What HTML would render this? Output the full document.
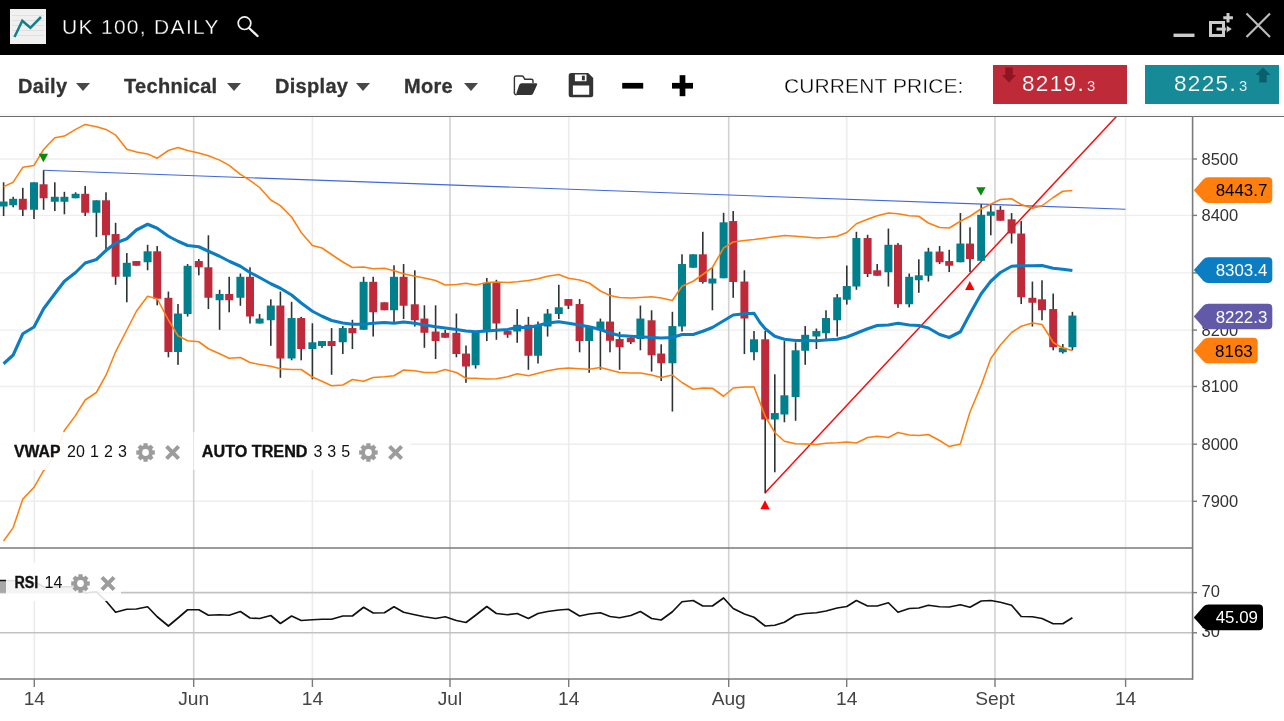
<!DOCTYPE html>
<html><head><meta charset="utf-8"><title>UK 100, DAILY</title>
<style>
html,body{margin:0;padding:0;background:#fff;}
body{width:1284px;height:721px;overflow:hidden;position:relative;font-family:"Liberation Sans",sans-serif;}
#hdr{position:absolute;left:0;top:0;width:1284px;height:55px;background:#000;}
#ttl{position:absolute;left:62px;top:15px;font-size:21px;line-height:24px;color:#fff;letter-spacing:1.3px;white-space:nowrap;-webkit-text-stroke:0.3px #000;}
.tb{position:absolute;top:74px;letter-spacing:0.3px;-webkit-text-stroke:0.3px #333;font-size:20px;line-height:24px;font-weight:bold;color:#333;white-space:nowrap;}
.ar{position:absolute;top:82.9px;width:0;height:0;margin-left:-0.6px;border-left:7.9px solid transparent;border-right:7.9px solid transparent;border-top:8.1px solid #484848;}
#cp{position:absolute;left:784px;top:74px;font-size:21px;line-height:24px;color:#000;white-space:nowrap;letter-spacing:0.1px;-webkit-text-stroke:0.35px #fff;}
.pb{position:absolute;top:65px;width:134px;height:39px;color:#fff;font-size:22.5px;line-height:38px;white-space:nowrap;letter-spacing:1.35px;}
.pb small{font-size:14.8px;margin-left:2px;}
svg{position:absolute;left:0;top:0;will-change:transform;}
div{will-change:transform;}
.lb{font-size:16.9px;fill:#000;}
.lbw{font-size:16.9px;fill:#fff;}
.ax{font-size:16.5px;fill:#333;}
.xl{font-size:19.2px;fill:#444;text-anchor:middle;}
.il{font-size:16px;fill:#111;}
</style></head><body>
<div id="hdr"></div>
<div id="ttl">UK 100, DAILY</div>
<div class="tb" style="left:18px">Daily</div><div class="ar" style="left:77px"></div>
<div class="tb" style="left:124px">Technical</div><div class="ar" style="left:228px"></div>
<div class="tb" style="left:275px">Display</div><div class="ar" style="left:357px"></div>
<div class="tb" style="left:404px">More</div><div class="ar" style="left:465px"></div>
<div id="cp">CURRENT PRICE:</div>
<div class="pb" style="left:993px;background:#be2a37;-webkit-text-stroke:0.15px #be2a37"><span style="position:absolute;left:29px">8219.<small>3</small></span></div>
<div class="pb" style="left:1145px;background:#178a98;-webkit-text-stroke:0.15px #178a98"><span style="position:absolute;left:29px">8225.<small>3</small></span></div>

<svg width="1284" height="721" viewBox="0 0 1284 721" font-family="Liberation Sans, sans-serif">
<g>
<rect x="10" y="9" width="36" height="35" fill="#f0f0f0"/>
<path d="M12 15.5H44M12 20.5H44M12 25.5H44M12 30.5H44M12 35.5H44" stroke="#dcdcdc" stroke-width="0.8"/>
<path d="M14.5 37 L22.3 20.8 L30.4 27.8 L41 17" fill="none" stroke="#12808c" stroke-width="2.5"/>
<circle cx="244.5" cy="23.2" r="6.3" fill="none" stroke="#f2f2f2" stroke-width="1.7"/>
<path d="M249 28 L257.5 36" stroke="#f2f2f2" stroke-width="2.4" stroke-linecap="round"/>
<rect x="1173.5" y="33.6" width="21" height="3.4" fill="#ccc"/>
<rect x="1210.5" y="22.5" width="13" height="13" fill="none" stroke="#ccc" stroke-width="3"/>
<path d="M1228 13v9.4M1223.3 17.7h9.6" stroke="#ccc" stroke-width="3"/>
<rect x="1216.5" y="27.6" width="10" height="3" fill="#ccc"/>
<path d="M1226.3 25 L1232.5 29 L1226.3 33Z" fill="#ccc" stroke="#000" stroke-width="0.8"/>
<path d="M1246.5 13.5 L1270 37 M1270 13.5 L1246.5 37" stroke="#bbb" stroke-width="2.2"/>
</g>
<g fill="#333">
<path d="M514.4 92.6 V77.6 q0 -1.6 1.6 -1.6 h6 q0.9 0 1.4 0.8 l1.4 2.4 h6.6 q1.6 0 1.6 1.6 v2.2" fill="none" stroke="#333" stroke-width="1.4"/>
<path d="M514.4 92 q-0.3 2.8 2.2 2.8" fill="none" stroke="#333" stroke-width="1.4"/>
<path d="M521.6 83.3 h14.6 q1.6 0 0.9 1.5 l-4 8.6 q-0.7 1.5 -2.3 1.5 h-13.6 q-1.6 0 -0.9 -1.5 l3 -8.6 q0.7 -1.5 2.3 -1.5z"/>
<path fill-rule="evenodd" d="M568.7 75.5 q0 -2.5 2.5 -2.5 h17 l5 5 v16.8 q0 2.5 -2.5 2.5 h-19.5 q-2.5 0 -2.5 -2.5z M574.9 74.6 h11.6 v6.6 h-11.6z M572.9 85.4 h16.3 v9.4 h-16.3z"/>
<rect x="581.9" y="75.7" width="2.9" height="4.6"/>
</g>
<rect x="622.2" y="82.9" width="21" height="5.7" fill="#000"/>
<rect x="672" y="82.9" width="21" height="5.7" fill="#000"/>
<rect x="679.65" y="75.2" width="5.7" height="21" fill="#000"/>
<path d="M1005.3 67.5 h7.4 v7.4 h3.4 l-7.1 7.6 l-7.1 -7.6 h3.4z" fill="#8e1521"/>
<path d="M1259.3 82.5 h7.4 v-7.4 h3.9 l-7.6 -7.6 l-7.6 7.6 h3.9z" fill="#0b5f6a"/>

<rect x="0" y="113.5" width="1284" height="2.5" fill="#f8f8f8"/>
<line x1="0" x2="1193" y1="159.0" y2="159.0" stroke="#eeeeee" stroke-width="1.4"/>
<line x1="0" x2="1193" y1="215.4" y2="215.4" stroke="#eeeeee" stroke-width="1.4"/>
<line x1="0" x2="1193" y1="272.9" y2="272.9" stroke="#eeeeee" stroke-width="1.4"/>
<line x1="0" x2="1193" y1="330.1" y2="330.1" stroke="#eeeeee" stroke-width="1.4"/>
<line x1="0" x2="1193" y1="386.5" y2="386.5" stroke="#eeeeee" stroke-width="1.4"/>
<line x1="0" x2="1193" y1="444.2" y2="444.2" stroke="#eeeeee" stroke-width="1.4"/>
<line x1="0" x2="1193" y1="501.3" y2="501.3" stroke="#eeeeee" stroke-width="1.4"/>
<line x1="34.3" x2="34.3" y1="116" y2="679" stroke="#ececec" stroke-width="1.6"/>
<line x1="193.7" x2="193.7" y1="116" y2="679" stroke="#d2d2d2" stroke-width="1.6"/>
<line x1="312.4" x2="312.4" y1="116" y2="679" stroke="#ececec" stroke-width="1.6"/>
<line x1="450" x2="450" y1="116" y2="679" stroke="#d2d2d2" stroke-width="1.6"/>
<line x1="568.7" x2="568.7" y1="116" y2="679" stroke="#ececec" stroke-width="1.6"/>
<line x1="728.7" x2="728.7" y1="116" y2="679" stroke="#d2d2d2" stroke-width="1.6"/>
<line x1="846.7" x2="846.7" y1="116" y2="679" stroke="#ececec" stroke-width="1.6"/>
<line x1="995" x2="995" y1="116" y2="679" stroke="#d2d2d2" stroke-width="1.6"/>
<line x1="1125.6" x2="1125.6" y1="116" y2="679" stroke="#ececec" stroke-width="1.6"/>
<line x1="0" x2="1193" y1="592.6" y2="592.6" stroke="#c2c2c2" stroke-width="1.6"/>
<line x1="0" x2="1193" y1="632.8" y2="632.8" stroke="#c2c2c2" stroke-width="1.6"/>
<line x1="43.5" y1="170.3" x2="1125.5" y2="209.3" stroke="#4066e0" stroke-width="1.1"/>
<line x1="765" y1="493" x2="1116.4" y2="116.5" stroke="#ff0a0a" stroke-width="1.5"/>
<rect x="2.80" y="182.3" width="1.6" height="33.75" fill="#2e3336"/>
<rect x="-0.40" y="201.55" width="8" height="4.95" fill="#00808c"/>
<rect x="12.40" y="196.8" width="1.6" height="10.50" fill="#2e3336"/>
<rect x="9.20" y="198.8" width="8" height="6.45" fill="#00808c"/>
<rect x="22.00" y="187.8" width="1.6" height="28.25" fill="#2e3336"/>
<rect x="18.80" y="198.8" width="8" height="10.95" fill="#be2a3a"/>
<rect x="33.20" y="182.3" width="1.6" height="36.75" fill="#2e3336"/>
<rect x="30.00" y="182.3" width="8" height="27.45" fill="#00808c"/>
<rect x="42.80" y="170.3" width="1.6" height="39.50" fill="#2e3336"/>
<rect x="39.60" y="184.3" width="8" height="13.95" fill="#be2a3a"/>
<rect x="54.00" y="182.3" width="1.6" height="28.75" fill="#2e3336"/>
<rect x="50.80" y="196.8" width="8" height="4.95" fill="#00808c"/>
<rect x="63.60" y="191.8" width="1.6" height="22.50" fill="#2e3336"/>
<rect x="60.40" y="196.8" width="8" height="4.95" fill="#00808c"/>
<rect x="74.80" y="192.3" width="1.6" height="6.00" fill="#2e3336"/>
<rect x="71.60" y="193.8" width="8" height="4.45" fill="#00808c"/>
<rect x="84.40" y="186.05" width="1.6" height="30.00" fill="#2e3336"/>
<rect x="81.20" y="193.8" width="8" height="18.95" fill="#be2a3a"/>
<rect x="95.60" y="200.3" width="1.6" height="36.75" fill="#2e3336"/>
<rect x="92.40" y="200.3" width="8" height="12.45" fill="#00808c"/>
<rect x="105.20" y="192.3" width="1.6" height="56.75" fill="#2e3336"/>
<rect x="102.00" y="200.3" width="8" height="34.95" fill="#be2a3a"/>
<rect x="114.80" y="222.8" width="1.6" height="62.00" fill="#2e3336"/>
<rect x="111.60" y="234.05" width="8" height="42.70" fill="#be2a3a"/>
<rect x="126.00" y="253.05" width="1.6" height="49.25" fill="#2e3336"/>
<rect x="122.80" y="262.8" width="8" height="13.95" fill="#00808c"/>
<rect x="135.60" y="261.05" width="1.6" height="4.75" fill="#2e3336"/>
<rect x="132.40" y="261.05" width="8" height="4.70" fill="#be2a3a"/>
<rect x="146.80" y="244.8" width="1.6" height="25.50" fill="#2e3336"/>
<rect x="143.60" y="251.3" width="8" height="10.95" fill="#00808c"/>
<rect x="156.40" y="246.05" width="1.6" height="59.25" fill="#2e3336"/>
<rect x="153.20" y="251.3" width="8" height="47.45" fill="#be2a3a"/>
<rect x="167.60" y="291.55" width="1.6" height="65.75" fill="#2e3336"/>
<rect x="164.40" y="297.8" width="8" height="54.20" fill="#be2a3a"/>
<rect x="177.20" y="304.05" width="1.6" height="60.75" fill="#2e3336"/>
<rect x="174.00" y="313.55" width="8" height="38.45" fill="#00808c"/>
<rect x="186.80" y="264.05" width="1.6" height="52.50" fill="#2e3336"/>
<rect x="183.60" y="265.8" width="8" height="48.20" fill="#00808c"/>
<rect x="198.00" y="259.05" width="1.6" height="16.25" fill="#2e3336"/>
<rect x="194.80" y="261.05" width="8" height="6.20" fill="#be2a3a"/>
<rect x="207.60" y="235.3" width="1.6" height="73.75" fill="#2e3336"/>
<rect x="204.40" y="267.3" width="8" height="30.45" fill="#be2a3a"/>
<rect x="218.80" y="289.8" width="1.6" height="40.00" fill="#2e3336"/>
<rect x="215.60" y="294.0" width="8" height="6.25" fill="#00808c"/>
<rect x="228.40" y="276.8" width="1.6" height="35.50" fill="#2e3336"/>
<rect x="225.20" y="294.0" width="8" height="6.25" fill="#be2a3a"/>
<rect x="239.60" y="273.55" width="1.6" height="32.25" fill="#2e3336"/>
<rect x="236.40" y="276.8" width="8" height="20.95" fill="#00808c"/>
<rect x="249.20" y="267.3" width="1.6" height="56.25" fill="#2e3336"/>
<rect x="246.00" y="276.8" width="8" height="39.70" fill="#be2a3a"/>
<rect x="258.80" y="314.05" width="1.6" height="9.50" fill="#2e3336"/>
<rect x="255.60" y="318.55" width="8" height="4.95" fill="#00808c"/>
<rect x="270.00" y="299.3" width="1.6" height="46.50" fill="#2e3336"/>
<rect x="266.80" y="305.55" width="8" height="14.70" fill="#00808c"/>
<rect x="279.60" y="291.55" width="1.6" height="86.25" fill="#2e3336"/>
<rect x="276.40" y="305.55" width="8" height="52.95" fill="#be2a3a"/>
<rect x="290.80" y="301.8" width="1.6" height="58.50" fill="#2e3336"/>
<rect x="287.60" y="318.05" width="8" height="40.45" fill="#00808c"/>
<rect x="300.40" y="316.8" width="1.6" height="43.50" fill="#2e3336"/>
<rect x="297.20" y="318.05" width="8" height="30.95" fill="#be2a3a"/>
<rect x="311.60" y="323.3" width="1.6" height="56.00" fill="#2e3336"/>
<rect x="308.40" y="342.3" width="8" height="6.70" fill="#00808c"/>
<rect x="321.20" y="341.05" width="1.6" height="6.75" fill="#2e3336"/>
<rect x="318.00" y="341.05" width="8" height="4.95" fill="#00808c"/>
<rect x="330.80" y="328.05" width="1.6" height="46.75" fill="#2e3336"/>
<rect x="327.60" y="341.05" width="8" height="4.95" fill="#be2a3a"/>
<rect x="342.00" y="326.05" width="1.6" height="28.00" fill="#2e3336"/>
<rect x="338.80" y="328.05" width="8" height="14.20" fill="#00808c"/>
<rect x="351.60" y="319.8" width="1.6" height="29.25" fill="#2e3336"/>
<rect x="348.40" y="328.05" width="8" height="5.20" fill="#be2a3a"/>
<rect x="362.80" y="276.8" width="1.6" height="53.00" fill="#2e3336"/>
<rect x="359.60" y="281.8" width="8" height="47.95" fill="#00808c"/>
<rect x="372.40" y="276.8" width="1.6" height="59.75" fill="#2e3336"/>
<rect x="369.20" y="281.8" width="8" height="30.45" fill="#be2a3a"/>
<rect x="383.60" y="302.3" width="1.6" height="8.00" fill="#2e3336"/>
<rect x="380.40" y="302.3" width="8" height="7.95" fill="#be2a3a"/>
<rect x="393.20" y="265.3" width="1.6" height="57.50" fill="#2e3336"/>
<rect x="390.00" y="276.8" width="8" height="33.45" fill="#00808c"/>
<rect x="402.80" y="264.05" width="1.6" height="55.00" fill="#2e3336"/>
<rect x="399.60" y="276.8" width="8" height="28.95" fill="#be2a3a"/>
<rect x="414.00" y="270.3" width="1.6" height="56.25" fill="#2e3336"/>
<rect x="410.80" y="304.3" width="8" height="15.95" fill="#be2a3a"/>
<rect x="423.60" y="305.3" width="1.6" height="42.50" fill="#2e3336"/>
<rect x="420.40" y="318.55" width="8" height="14.20" fill="#be2a3a"/>
<rect x="434.80" y="305.3" width="1.6" height="53.75" fill="#2e3336"/>
<rect x="431.60" y="331.55" width="8" height="9.45" fill="#be2a3a"/>
<rect x="444.40" y="329.8" width="1.6" height="8.00" fill="#2e3336"/>
<rect x="441.20" y="332.8" width="8" height="4.95" fill="#be2a3a"/>
<rect x="455.60" y="313.55" width="1.6" height="43.75" fill="#2e3336"/>
<rect x="452.40" y="332.8" width="8" height="21.20" fill="#be2a3a"/>
<rect x="465.20" y="345.55" width="1.6" height="37.25" fill="#2e3336"/>
<rect x="462.00" y="353.55" width="8" height="12.95" fill="#be2a3a"/>
<rect x="474.80" y="332.8" width="1.6" height="35.75" fill="#2e3336"/>
<rect x="471.60" y="332.8" width="8" height="32.45" fill="#00808c"/>
<rect x="486.00" y="278.05" width="1.6" height="63.00" fill="#2e3336"/>
<rect x="482.80" y="283.05" width="8" height="48.45" fill="#00808c"/>
<rect x="495.60" y="279.8" width="1.6" height="60.00" fill="#2e3336"/>
<rect x="492.40" y="283.05" width="8" height="40.45" fill="#be2a3a"/>
<rect x="506.80" y="331.05" width="1.6" height="6.75" fill="#2e3336"/>
<rect x="503.60" y="331.05" width="8" height="3.70" fill="#be2a3a"/>
<rect x="516.40" y="309.05" width="1.6" height="33.75" fill="#2e3336"/>
<rect x="513.20" y="324.8" width="8" height="6.70" fill="#00808c"/>
<rect x="527.60" y="316.8" width="1.6" height="53.00" fill="#2e3336"/>
<rect x="524.40" y="324.8" width="8" height="30.95" fill="#be2a3a"/>
<rect x="537.20" y="321.55" width="1.6" height="42.00" fill="#2e3336"/>
<rect x="534.00" y="324.8" width="8" height="30.95" fill="#00808c"/>
<rect x="546.80" y="309.05" width="1.6" height="27.50" fill="#2e3336"/>
<rect x="543.60" y="313.55" width="8" height="12.95" fill="#00808c"/>
<rect x="558.00" y="284.8" width="1.6" height="34.25" fill="#2e3336"/>
<rect x="554.80" y="307.3" width="8" height="6.70" fill="#00808c"/>
<rect x="567.60" y="299.05" width="1.6" height="10.00" fill="#2e3336"/>
<rect x="564.40" y="299.05" width="8" height="6.70" fill="#be2a3a"/>
<rect x="578.80" y="299.05" width="1.6" height="53.25" fill="#2e3336"/>
<rect x="575.60" y="304.05" width="8" height="36.95" fill="#be2a3a"/>
<rect x="588.40" y="326.05" width="1.6" height="46.75" fill="#2e3336"/>
<rect x="585.20" y="326.05" width="8" height="14.95" fill="#00808c"/>
<rect x="599.60" y="318.55" width="1.6" height="51.25" fill="#2e3336"/>
<rect x="596.40" y="321.55" width="8" height="8.70" fill="#00808c"/>
<rect x="609.20" y="288.05" width="1.6" height="64.25" fill="#2e3336"/>
<rect x="606.00" y="321.55" width="8" height="19.20" fill="#be2a3a"/>
<rect x="618.80" y="331.8" width="1.6" height="38.00" fill="#2e3336"/>
<rect x="615.60" y="339.05" width="8" height="8.20" fill="#be2a3a"/>
<rect x="630.00" y="336.05" width="1.6" height="8.00" fill="#2e3336"/>
<rect x="626.80" y="337.8" width="8" height="4.45" fill="#be2a3a"/>
<rect x="639.60" y="305.55" width="1.6" height="44.75" fill="#2e3336"/>
<rect x="636.40" y="318.55" width="8" height="20.45" fill="#00808c"/>
<rect x="650.80" y="310.3" width="1.6" height="61.25" fill="#2e3336"/>
<rect x="647.60" y="320.3" width="8" height="34.95" fill="#be2a3a"/>
<rect x="660.40" y="344.3" width="1.6" height="36.75" fill="#2e3336"/>
<rect x="657.20" y="353.55" width="8" height="9.70" fill="#be2a3a"/>
<rect x="671.60" y="311.8" width="1.6" height="99.75" fill="#2e3336"/>
<rect x="668.40" y="326.05" width="8" height="37.20" fill="#00808c"/>
<rect x="681.20" y="254.3" width="1.6" height="77.25" fill="#2e3336"/>
<rect x="678.00" y="264.05" width="8" height="62.45" fill="#00808c"/>
<rect x="692.40" y="254.3" width="1.6" height="13.50" fill="#2e3336"/>
<rect x="689.20" y="254.3" width="8" height="13.45" fill="#00808c"/>
<rect x="702.00" y="231.8" width="1.6" height="51.75" fill="#2e3336"/>
<rect x="698.80" y="254.3" width="8" height="27.70" fill="#be2a3a"/>
<rect x="711.60" y="267.8" width="1.6" height="42.50" fill="#2e3336"/>
<rect x="708.40" y="278.55" width="8" height="4.95" fill="#00808c"/>
<rect x="722.80" y="212.8" width="1.6" height="65.50" fill="#2e3336"/>
<rect x="719.60" y="222.3" width="8" height="55.95" fill="#00808c"/>
<rect x="732.40" y="211.05" width="1.6" height="86.75" fill="#2e3336"/>
<rect x="729.20" y="221.05" width="8" height="60.95" fill="#be2a3a"/>
<rect x="743.60" y="270.3" width="1.6" height="83.75" fill="#2e3336"/>
<rect x="740.40" y="281.55" width="8" height="36.95" fill="#be2a3a"/>
<rect x="753.20" y="331.05" width="1.6" height="29.25" fill="#2e3336"/>
<rect x="750.00" y="339.3" width="8" height="12.95" fill="#00808c"/>
<rect x="764.40" y="331.05" width="1.6" height="162.25" fill="#2e3336"/>
<rect x="761.20" y="339.3" width="8" height="80.20" fill="#be2a3a"/>
<rect x="774.00" y="374.3" width="1.6" height="98.00" fill="#2e3336"/>
<rect x="770.80" y="413.05" width="8" height="6.45" fill="#00808c"/>
<rect x="783.60" y="341.05" width="1.6" height="81.25" fill="#2e3336"/>
<rect x="780.40" y="395.3" width="8" height="19.20" fill="#00808c"/>
<rect x="794.80" y="342.3" width="1.6" height="78.50" fill="#2e3336"/>
<rect x="791.60" y="350.3" width="8" height="46.70" fill="#00808c"/>
<rect x="804.40" y="326.05" width="1.6" height="38.75" fill="#2e3336"/>
<rect x="801.20" y="334.8" width="8" height="15.95" fill="#00808c"/>
<rect x="815.60" y="328.55" width="1.6" height="20.50" fill="#2e3336"/>
<rect x="812.40" y="331.05" width="8" height="5.45" fill="#00808c"/>
<rect x="825.20" y="310.3" width="1.6" height="28.75" fill="#2e3336"/>
<rect x="822.00" y="318.05" width="8" height="15.20" fill="#00808c"/>
<rect x="836.40" y="294.05" width="1.6" height="42.50" fill="#2e3336"/>
<rect x="833.20" y="297.3" width="8" height="22.95" fill="#00808c"/>
<rect x="846.00" y="265.55" width="1.6" height="39.00" fill="#2e3336"/>
<rect x="842.80" y="286.05" width="8" height="13.70" fill="#00808c"/>
<rect x="855.60" y="231.8" width="1.6" height="58.00" fill="#2e3336"/>
<rect x="852.40" y="238.05" width="8" height="48.45" fill="#00808c"/>
<rect x="866.80" y="234.8" width="1.6" height="42.25" fill="#2e3336"/>
<rect x="863.60" y="238.05" width="8" height="35.95" fill="#be2a3a"/>
<rect x="876.40" y="264.05" width="1.6" height="11.75" fill="#2e3336"/>
<rect x="873.20" y="270.3" width="8" height="5.45" fill="#be2a3a"/>
<rect x="887.60" y="228.55" width="1.6" height="58.00" fill="#2e3336"/>
<rect x="884.40" y="244.8" width="8" height="27.45" fill="#00808c"/>
<rect x="897.20" y="243.05" width="1.6" height="64.75" fill="#2e3336"/>
<rect x="894.00" y="244.8" width="8" height="59.45" fill="#be2a3a"/>
<rect x="908.40" y="273.55" width="1.6" height="33.75" fill="#2e3336"/>
<rect x="905.20" y="276.8" width="8" height="27.45" fill="#00808c"/>
<rect x="918.00" y="259.3" width="1.6" height="33.50" fill="#2e3336"/>
<rect x="914.80" y="275.3" width="8" height="4.95" fill="#00808c"/>
<rect x="927.60" y="247.8" width="1.6" height="33.75" fill="#2e3336"/>
<rect x="924.40" y="251.55" width="8" height="24.20" fill="#00808c"/>
<rect x="938.80" y="246.05" width="1.6" height="18.00" fill="#2e3336"/>
<rect x="935.60" y="251.55" width="8" height="10.70" fill="#be2a3a"/>
<rect x="948.40" y="249.8" width="1.6" height="22.25" fill="#2e3336"/>
<rect x="945.20" y="261.05" width="8" height="4.70" fill="#be2a3a"/>
<rect x="959.60" y="213.05" width="1.6" height="49.25" fill="#2e3336"/>
<rect x="956.40" y="243.55" width="8" height="18.70" fill="#00808c"/>
<rect x="969.20" y="227.3" width="1.6" height="44.75" fill="#2e3336"/>
<rect x="966.00" y="243.55" width="8" height="15.45" fill="#be2a3a"/>
<rect x="980.40" y="204.3" width="1.6" height="56.50" fill="#2e3336"/>
<rect x="977.20" y="214.8" width="8" height="45.95" fill="#00808c"/>
<rect x="990.00" y="204.8" width="1.6" height="30.50" fill="#2e3336"/>
<rect x="986.80" y="211.55" width="8" height="4.20" fill="#00808c"/>
<rect x="999.60" y="206.05" width="1.6" height="14.75" fill="#2e3336"/>
<rect x="996.40" y="209.8" width="8" height="10.95" fill="#be2a3a"/>
<rect x="1010.80" y="213.05" width="1.6" height="30.50" fill="#2e3336"/>
<rect x="1007.60" y="219.3" width="8" height="14.20" fill="#be2a3a"/>
<rect x="1020.40" y="221.05" width="1.6" height="83.00" fill="#2e3336"/>
<rect x="1017.20" y="233.55" width="8" height="63.70" fill="#be2a3a"/>
<rect x="1031.60" y="281.55" width="1.6" height="45.00" fill="#2e3336"/>
<rect x="1028.40" y="297.8" width="8" height="4.95" fill="#be2a3a"/>
<rect x="1041.20" y="280.3" width="1.6" height="40.00" fill="#2e3336"/>
<rect x="1038.00" y="299.3" width="8" height="10.95" fill="#be2a3a"/>
<rect x="1052.40" y="293.55" width="1.6" height="56.75" fill="#2e3336"/>
<rect x="1049.20" y="309.05" width="8" height="38.20" fill="#be2a3a"/>
<rect x="1062.00" y="344.05" width="1.6" height="9.50" fill="#2e3336"/>
<rect x="1058.80" y="347.8" width="8" height="4.45" fill="#00808c"/>
<rect x="1071.60" y="311.8" width="1.6" height="38.50" fill="#2e3336"/>
<rect x="1068.40" y="315.55" width="8" height="31.70" fill="#00808c"/>
<polyline points="3.60,186.60 13.20,182.20 22.80,167.30 34.00,165.40 43.60,149.50 54.80,137.80 64.40,136.10 75.60,129.40 85.20,124.40 96.40,126.70 106.00,129.40 115.60,135.10 126.80,149.20 136.40,151.90 147.60,153.90 157.20,158.20 168.40,150.50 178.00,147.50 187.60,150.50 198.80,152.90 208.40,155.80 219.60,160.10 229.20,165.40 240.40,174.40 250.00,180.40 259.60,187.50 270.80,200.00 280.40,205.60 291.60,217.00 301.20,232.40 312.40,245.60 322.00,248.00 331.60,254.50 342.80,262.00 352.40,267.50 363.60,267.00 373.20,268.75 384.40,268.25 394.00,270.75 403.60,273.75 414.80,276.25 424.40,278.00 435.60,280.50 445.20,285.00 456.40,284.50 466.00,283.25 475.60,285.00 486.80,282.50 496.40,282.00 507.60,282.50 517.20,281.75 528.40,280.50 538.00,278.75 547.60,276.25 558.80,274.50 568.40,278.25 579.60,280.00 589.20,283.00 600.40,291.00 610.00,295.50 619.60,297.50 630.80,298.00 640.40,297.50 651.60,296.75 661.20,298.00 672.40,300.50 682.00,286.25 693.20,281.25 702.80,274.50 712.40,267.50 723.60,248.00 733.20,242.00 744.40,240.50 754.00,239.50 765.20,238.00 774.80,236.75 784.40,235.50 795.60,236.25 805.20,237.00 816.40,238.00 826.00,237.50 837.20,236.25 846.80,232.50 856.40,223.75 867.60,219.25 877.20,215.75 888.40,213.00 898.00,213.75 909.20,215.75 918.80,216.25 928.40,223.00 939.60,227.50 949.20,228.00 960.40,221.25 970.00,216.25 981.20,208.75 990.80,204.25 1000.40,199.50 1011.60,198.75 1021.20,204.50 1032.40,208.25 1042.00,205.75 1053.20,197.50 1062.80,191.25 1072.40,190.50" fill="none" stroke="#ff7f0e" stroke-width="1.55" stroke-linejoin="round"/>
<polyline points="3.60,541.00 13.20,527.60 22.80,499.10 34.00,487.40 43.60,470.70 54.80,455.60 64.40,430.50 75.60,415.40 85.20,400.00 96.40,392.50 106.00,375.20 115.60,351.80 126.80,330.00 136.40,311.25 147.60,296.25 157.20,298.75 168.40,320.00 178.00,335.75 187.60,340.75 198.80,341.75 208.40,348.75 219.60,353.75 229.20,358.25 240.40,357.50 250.00,362.50 259.60,364.50 270.80,366.25 280.40,368.75 291.60,369.50 301.20,369.50 312.40,377.00 322.00,381.25 331.60,385.75 342.80,385.00 352.40,379.50 363.60,381.25 373.20,377.50 384.40,376.75 394.00,375.75 403.60,370.00 414.80,370.75 424.40,372.50 435.60,372.50 445.20,369.50 456.40,372.50 466.00,378.25 475.60,378.25 486.80,379.00 496.40,378.75 507.60,376.75 517.20,373.75 528.40,375.75 538.00,373.25 547.60,370.75 558.80,368.75 568.40,368.00 579.60,368.75 589.20,369.25 600.40,367.50 610.00,370.00 619.60,372.50 630.80,373.00 640.40,373.00 651.60,375.00 661.20,377.50 672.40,375.00 682.00,382.50 693.20,389.25 702.80,388.00 712.40,388.25 723.60,396.25 733.20,388.00 744.40,387.00 754.00,387.00 760.00,402.50 765.20,416.25 774.80,432.50 784.40,441.25 795.60,443.75 805.20,444.00 816.40,444.50 826.00,443.25 837.20,442.75 846.80,442.00 856.40,443.00 867.60,437.50 877.20,436.25 888.40,437.50 898.00,432.50 909.20,435.00 918.80,435.50 928.40,434.50 939.60,440.50 949.20,446.60 960.40,443.90 970.00,412.00 981.20,385.30 990.80,358.50 1000.40,345.00 1011.60,332.50 1021.20,326.25 1032.40,323.00 1042.00,324.50 1048.75,335.00 1053.20,342.50 1062.80,348.00 1072.40,350.50" fill="none" stroke="#ff7f0e" stroke-width="1.55" stroke-linejoin="round"/>
<polyline points="3.60,363.75 13.20,355.00 22.80,333.75 34.00,327.00 43.60,308.75 54.80,293.75 64.40,281.25 75.60,272.50 85.20,263.00 96.40,259.50 106.00,250.50 115.60,243.00 126.80,238.75 136.40,230.00 147.60,224.25 157.20,228.25 168.40,236.25 178.00,241.25 187.60,245.50 198.80,246.75 208.40,251.25 219.60,256.25 229.20,261.25 240.40,266.25 250.00,272.50 259.60,277.50 270.80,283.75 280.40,288.25 291.60,295.00 301.20,303.00 312.40,311.25 322.00,316.25 331.60,320.50 342.80,323.00 352.40,324.25 363.60,324.25 373.20,323.25 384.40,322.50 394.00,323.25 403.60,322.00 414.80,323.25 424.40,325.00 435.60,326.75 445.20,328.00 456.40,329.50 466.00,331.00 475.60,331.75 486.80,331.00 496.40,330.25 507.60,329.50 517.20,327.50 528.40,327.50 538.00,325.50 547.60,323.00 558.80,321.75 568.40,323.25 579.60,325.00 589.20,326.75 600.40,329.50 610.00,333.00 619.60,335.50 630.80,336.25 640.40,336.75 651.60,337.50 661.20,338.00 672.40,337.50 682.00,334.50 693.20,334.50 702.80,331.25 712.40,327.50 723.60,320.75 733.20,315.00 744.40,313.75 754.00,313.25 760.00,322.50 765.20,328.75 774.80,336.25 784.40,339.25 795.60,340.50 805.20,340.50 816.40,340.75 826.00,340.00 837.20,339.25 846.80,337.00 856.40,333.25 867.60,328.75 877.20,325.50 888.40,325.00 898.00,323.25 909.20,325.00 918.80,325.50 928.40,328.00 939.60,334.50 949.20,337.50 960.40,331.75 970.00,313.75 981.20,293.75 990.80,281.25 1000.40,272.50 1011.60,266.25 1021.20,265.75 1032.40,265.75 1042.00,265.50 1053.20,268.25 1062.80,269.25 1072.40,270.50" fill="none" stroke="#0b7dc2" stroke-width="3.1" stroke-linejoin="round"/>
<path d="M38.699999999999996 153.8 h9.4 l-4.7 8.4z" fill="#0a8a0a"/>
<path d="M976.1999999999999 187.3 h9.4 l-4.7 8.4z" fill="#0a8a0a"/>
<path d="M765 500.3 l4.7 9 h-9.4z" fill="#f00"/>
<path d="M969.8 281 l4.7 9 h-9.4z" fill="#f00"/>
<polygon points="0.00,592.80 0.00,580.50 15.00,580.50 37.50,583.50 45.00,586.75 72.50,586.75 85.00,593.00 85.00,592.80" fill="#a8a8a8"/>
<polyline points="0.00,580.50 13.20,580.50 37.50,583.50 43.60,586.75 75.60,586.75 85.20,593.00 96.40,591.75 106.00,601.00 115.60,612.25 126.80,609.25 136.40,609.00 147.60,606.75 157.20,616.75 168.40,626.00 178.00,618.00 187.60,609.75 198.80,609.75 208.40,615.25 219.60,614.75 229.20,615.25 240.40,611.50 250.00,618.00 259.60,618.50 270.80,615.50 280.40,623.50 291.60,616.00 301.20,620.50 312.40,619.75 322.00,619.25 331.60,619.25 342.80,616.00 352.40,616.00 363.60,607.25 373.20,613.00 384.40,612.75 394.00,606.75 403.60,612.25 414.80,614.75 424.40,616.75 435.60,618.50 445.20,616.75 456.40,620.50 466.00,622.50 475.60,615.25 486.80,606.50 496.40,613.50 507.60,614.75 517.20,613.50 528.40,618.50 538.00,613.50 547.60,611.50 558.80,610.00 568.40,609.25 579.60,616.00 589.20,614.00 600.40,612.75 610.00,616.50 619.60,617.75 630.80,615.50 640.40,611.50 651.60,618.50 661.20,620.00 672.40,611.75 682.00,601.75 693.20,600.50 702.80,606.00 712.40,606.00 723.60,598.00 733.20,608.50 744.40,614.00 754.00,617.25 765.20,626.00 774.80,625.25 784.40,622.25 795.60,615.25 805.20,613.50 816.40,612.75 826.00,611.00 837.20,608.00 846.80,606.50 856.40,600.50 867.60,606.00 877.20,606.00 888.40,602.75 898.00,612.25 909.20,608.50 918.80,608.00 928.40,605.25 939.60,606.75 949.20,607.00 960.40,604.75 970.00,607.25 981.20,601.00 990.80,600.50 1000.40,602.25 1011.60,605.25 1021.20,616.50 1032.40,616.75 1042.00,618.50 1053.20,623.75 1062.80,623.75 1072.40,617.75" fill="none" stroke="#111" stroke-width="1.7" stroke-linejoin="round"/>
<line x1="0" x2="1284" y1="116.5" y2="116.5" stroke="#6e6e6e" stroke-width="1.1"/>
<line x1="0" x2="1193" y1="547.9" y2="547.9" stroke="#7a7a7a" stroke-width="1.5"/>
<line x1="0" x2="1193" y1="679" y2="679" stroke="#7a7a7a" stroke-width="1.6"/>
<line x1="1192.6" x2="1192.6" y1="116" y2="679.8" stroke="#7a7a7a" stroke-width="1.6"/>
<line x1="34.3" x2="34.3" y1="679" y2="687" stroke="#7a7a7a" stroke-width="1.4"/>
<line x1="193.7" x2="193.7" y1="679" y2="687" stroke="#7a7a7a" stroke-width="1.4"/>
<line x1="312.4" x2="312.4" y1="679" y2="687" stroke="#7a7a7a" stroke-width="1.4"/>
<line x1="450" x2="450" y1="679" y2="687" stroke="#7a7a7a" stroke-width="1.4"/>
<line x1="568.7" x2="568.7" y1="679" y2="687" stroke="#7a7a7a" stroke-width="1.4"/>
<line x1="728.7" x2="728.7" y1="679" y2="687" stroke="#7a7a7a" stroke-width="1.4"/>
<line x1="846.7" x2="846.7" y1="679" y2="687" stroke="#7a7a7a" stroke-width="1.4"/>
<line x1="995" x2="995" y1="679" y2="687" stroke="#7a7a7a" stroke-width="1.4"/>
<line x1="1125.6" x2="1125.6" y1="679" y2="687" stroke="#7a7a7a" stroke-width="1.4"/>
<line x1="1192" x2="1197" y1="159.0" y2="159.0" stroke="#7a7a7a" stroke-width="1.4"/>
<line x1="1192" x2="1197" y1="215.4" y2="215.4" stroke="#7a7a7a" stroke-width="1.4"/>
<line x1="1192" x2="1197" y1="272.9" y2="272.9" stroke="#7a7a7a" stroke-width="1.4"/>
<line x1="1192" x2="1197" y1="330.1" y2="330.1" stroke="#7a7a7a" stroke-width="1.4"/>
<line x1="1192" x2="1197" y1="386.5" y2="386.5" stroke="#7a7a7a" stroke-width="1.4"/>
<line x1="1192" x2="1197" y1="444.2" y2="444.2" stroke="#7a7a7a" stroke-width="1.4"/>
<line x1="1192" x2="1197" y1="501.3" y2="501.3" stroke="#7a7a7a" stroke-width="1.4"/>
<line x1="1192" x2="1197" y1="592.6" y2="592.6" stroke="#7a7a7a" stroke-width="1.4"/>
<line x1="1192" x2="1197" y1="632.8" y2="632.8" stroke="#7a7a7a" stroke-width="1.4"/>
<text class="ax" x="1201.5" y="164.8">8500</text>
<text class="ax" x="1201.5" y="221.2">8400</text>
<text class="ax" x="1201.5" y="278.7">8300</text>
<text class="ax" x="1201.5" y="335.9">8200</text>
<text class="ax" x="1201.5" y="392.3">8100</text>
<text class="ax" x="1201.5" y="450.0">8000</text>
<text class="ax" x="1201.5" y="507.1">7900</text>
<text class="ax" x="1201.5" y="597.0">70</text>
<text class="ax" x="1201.5" y="637.2">30</text>
<text class="xl" x="34.3" y="704.7">14</text>
<text class="xl" x="193.7" y="704.7">Jun</text>
<text class="xl" x="312.4" y="704.7">14</text>
<text class="xl" x="450" y="704.7">Jul</text>
<text class="xl" x="568.7" y="704.7">14</text>
<text class="xl" x="728.7" y="704.7">Aug</text>
<text class="xl" x="846.7" y="704.7">14</text>
<text class="xl" x="995" y="704.7">Sept</text>
<text class="xl" x="1125.6" y="704.7">14</text>
<path d="M1193.8 190.2 L1203.2 179.55 Q1205.3 177.35 1208.5 177.35 H1268.3 q4 0 4 4 V199.05 q0 4 -4 4 H1208.5 Q1205.3 203.05 1203.2 200.85Z" fill="#ff7f0e"/><text class="lb" x="1267.3" y="196.2" text-anchor="end">8443.7</text>
<path d="M1193.8 270.1 L1203.2 259.45 Q1205.3 257.25 1208.5 257.25 H1268.3 q4 0 4 4 V278.95 q0 4 -4 4 H1208.5 Q1205.3 282.95 1203.2 280.75Z" fill="#0b7dc2"/><text class="lbw" x="1267.3" y="276.1" text-anchor="end">8303.4</text>
<path d="M1193.8 316.5 L1203.2 305.85 Q1205.3 303.65 1208.5 303.65 H1268.3 q4 0 4 4 V325.35 q0 4 -4 4 H1208.5 Q1205.3 329.35 1203.2 327.15Z" fill="#625aa8"/><text class="lbw" x="1267.3" y="322.5" text-anchor="end">8222.3</text>
<path d="M1193.8 350.5 L1203.2 339.85 Q1205.3 337.65 1208.5 337.65 H1253.7 q4 0 4 4 V359.35 q0 4 -4 4 H1208.5 Q1205.3 363.35 1203.2 361.15Z" fill="#ff7f0e"/><text class="lb" x="1252.7" y="356.5" text-anchor="end">8163</text>
<path d="M1193.8 617.4 L1203.2 606.75 Q1205.3 604.55 1208.5 604.55 H1259 q4 0 4 4 V626.25 q0 4 -4 4 H1208.5 Q1205.3 630.25 1203.2 628.05Z" fill="#000"/><text class="lbw" x="1258" y="623.4" text-anchor="end">45.09</text>
<rect x="0" y="432" width="193" height="38" fill="#fff" fill-opacity="0.91"/>
<rect x="193.5" y="432" width="217" height="38" fill="#fff" fill-opacity="0.91"/>
<text class="il" x="14" y="457" font-weight="bold" stroke="#111" stroke-width="0.35" textLength="46.5" lengthAdjust="spacingAndGlyphs">VWAP</text><text class="il" x="67" y="457" word-spacing="0.7">20 1 2 3</text>
<path d="M147.70 461.75 L143.40 461.75 L143.49 459.61 L141.99 458.98 L140.52 460.56 L137.49 457.53 L139.07 456.06 L138.44 454.56 L136.30 454.65 L136.30 450.35 L138.44 450.44 L139.07 448.94 L137.49 447.47 L140.52 444.44 L141.99 446.02 L143.49 445.39 L143.40 443.25 L147.70 443.25 L147.61 445.39 L149.11 446.02 L150.58 444.44 L153.61 447.47 L152.03 448.94 L152.66 450.44 L154.80 450.35 L154.80 454.65 L152.66 454.56 L152.03 456.06 L153.61 457.53 L150.58 460.56 L149.11 458.98 L147.61 459.61Z M142.15 452.5 a3.4 3.4 0 1 0 6.8 0 a3.4 3.4 0 1 0 -6.8 0Z" fill="#9c9c9c" fill-rule="evenodd"/>
<path d="M166.54999999999998 446.45 L178.65 458.55 M178.65 446.45 L166.54999999999998 458.55" stroke="#9c9c9c" stroke-width="4" stroke-linecap="butt"/>
<text class="il" x="201.8" y="457" font-weight="bold" stroke="#111" stroke-width="0.35" textLength="105.7" lengthAdjust="spacingAndGlyphs">AUTO TREND</text><text class="il" x="313.4" y="457" word-spacing="0.6">3 3 5</text>
<path d="M370.55 461.75 L366.25 461.75 L366.34 459.61 L364.84 458.98 L363.37 460.56 L360.34 457.53 L361.92 456.06 L361.29 454.56 L359.15 454.65 L359.15 450.35 L361.29 450.44 L361.92 448.94 L360.34 447.47 L363.37 444.44 L364.84 446.02 L366.34 445.39 L366.25 443.25 L370.55 443.25 L370.46 445.39 L371.96 446.02 L373.43 444.44 L376.46 447.47 L374.88 448.94 L375.51 450.44 L377.65 450.35 L377.65 454.65 L375.51 454.56 L374.88 456.06 L376.46 457.53 L373.43 460.56 L371.96 458.98 L370.46 459.61Z M365.0 452.5 a3.4 3.4 0 1 0 6.8 0 a3.4 3.4 0 1 0 -6.8 0Z" fill="#9c9c9c" fill-rule="evenodd"/>
<path d="M389.55 446.45 L401.65000000000003 458.55 M401.65000000000003 446.45 L389.55 458.55" stroke="#9c9c9c" stroke-width="4" stroke-linecap="butt"/>
<rect x="6" y="562.5" width="115" height="38.5" fill="#fff" fill-opacity="0.87"/>
<text class="il" x="14.5" y="587.6" font-weight="bold" stroke="#111" stroke-width="0.35" textLength="23.8" lengthAdjust="spacingAndGlyphs">RSI</text><text class="il" x="44.6" y="587.6">14</text>
<path d="M82.65 592.75 L78.35 592.75 L78.44 590.61 L76.94 589.98 L75.47 591.56 L72.44 588.53 L74.02 587.06 L73.39 585.56 L71.25 585.65 L71.25 581.35 L73.39 581.44 L74.02 579.94 L72.44 578.47 L75.47 575.44 L76.94 577.02 L78.44 576.39 L78.35 574.25 L82.65 574.25 L82.56 576.39 L84.06 577.02 L85.53 575.44 L88.56 578.47 L86.98 579.94 L87.61 581.44 L89.75 581.35 L89.75 585.65 L87.61 585.56 L86.98 587.06 L88.56 588.53 L85.53 591.56 L84.06 589.98 L82.56 590.61Z M77.1 583.5 a3.4 3.4 0 1 0 6.8 0 a3.4 3.4 0 1 0 -6.8 0Z" fill="#9c9c9c" fill-rule="evenodd"/>
<path d="M101.95 577.45 L114.05 589.55 M114.05 577.45 L101.95 589.55" stroke="#9c9c9c" stroke-width="4" stroke-linecap="butt"/>
</svg></body></html>
